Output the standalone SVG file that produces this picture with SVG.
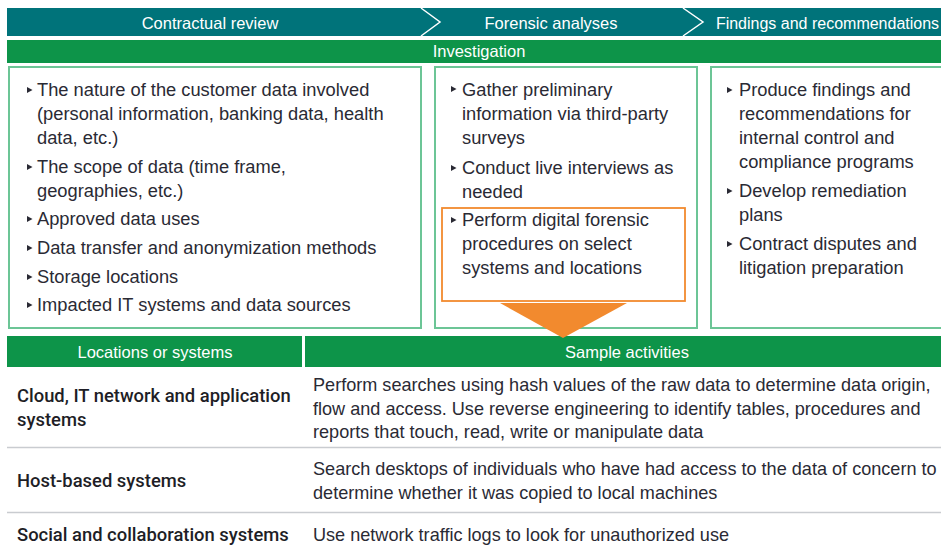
<svg xmlns="http://www.w3.org/2000/svg" width="941" height="552" viewBox="0 0 941 552">
  <style>
    .hdr { font-family: "Liberation Sans", Arial, sans-serif; font-size: 16.5px; fill: #ffffff; text-anchor: middle; }
    .body { font-family: "Liberation Sans", Arial, sans-serif; font-size: 18.3px; fill: #2a2a34; }
    .tbl { font-family: "Liberation Sans", Arial, sans-serif; font-size: 18.1px; fill: #2a2a34; }
    .lbl { font-family: Roboto, "Liberation Sans", sans-serif; font-weight: 500; font-size: 18.4px; fill: #1e1e26; }
    .box { fill: #ffffff; stroke: #6cc596; stroke-width: 2; }
    .rule { stroke: #c9ccd0; stroke-width: 1.5; }
    .bul { fill: #2a2a34; }
  </style>
  <defs>
    <polygon id="bullet" points="0,-3 5.5,0 0,3" class="bul"/>
  </defs>

  <rect width="941" height="552" fill="#ffffff"/>

  <!-- phase banner -->
  <g id="phases">
    <rect x="7" y="8" width="934" height="28" fill="#00737a"/>
    <polyline points="421,8 440,22 421,36" fill="none" stroke="#ffffff" stroke-width="1.5"/>
    <polyline points="683,8 703,22 683,36" fill="none" stroke="#ffffff" stroke-width="1.5"/>
    <text class="hdr" x="210" y="28.5">Contractual review</text>
    <text class="hdr" x="551" y="28.5">Forensic analyses</text>
    <text class="hdr" x="827.5" y="28.5" style="font-size:16px">Findings and recommendations</text>
  </g>

  <!-- investigation band -->
  <g id="investigation">
    <rect x="7" y="40" width="934" height="23" fill="#0d9449"/>
    <text class="hdr" x="479" y="57">Investigation</text>
  </g>

  <!-- contractual review column -->
  <g id="contractual">
    <rect class="box" x="9" y="67" width="412" height="261"/>
    <use href="#bullet" x="27" y="90"/>
    <text class="body" x="37" y="96">The nature of the customer data involved</text>
    <text class="body" x="37" y="120">(personal information, banking data, health</text>
    <text class="body" x="37" y="144">data, etc.)</text>
    <use href="#bullet" x="27" y="167"/>
    <text class="body" x="37" y="173">The scope of data (time frame,</text>
    <text class="body" x="37" y="197">geographies, etc.)</text>
    <use href="#bullet" x="27" y="219"/>
    <text class="body" x="37" y="225">Approved data uses</text>
    <use href="#bullet" x="27" y="248"/>
    <text class="body" x="37" y="254">Data transfer and anonymization methods</text>
    <use href="#bullet" x="27" y="277"/>
    <text class="body" x="37" y="283">Storage locations</text>
    <use href="#bullet" x="27" y="305"/>
    <text class="body" x="37" y="311">Impacted IT systems and data sources</text>
  </g>

  <!-- forensic analyses column -->
  <g id="forensic">
    <rect class="box" x="435" y="67" width="262" height="261"/>
    <use href="#bullet" x="451" y="89"/>
    <text class="body" x="462" y="96">Gather preliminary</text>
    <text class="body" x="462" y="120">information via third-party</text>
    <text class="body" x="462" y="144">surveys</text>
    <use href="#bullet" x="451" y="168"/>
    <text class="body" x="462" y="174">Conduct live interviews as</text>
    <text class="body" x="462" y="198">needed</text>
    <rect x="442" y="208" width="243" height="93" fill="none" stroke="#f28a2e" stroke-width="1.8"/>
    <use href="#bullet" x="451" y="220"/>
    <text class="body" x="462" y="226">Perform digital forensic</text>
    <text class="body" x="462" y="250">procedures on select</text>
    <text class="body" x="462" y="274">systems and locations</text>
  </g>

  <!-- findings column -->
  <g id="findings">
    <rect class="box" x="711" y="67" width="240" height="261"/>
    <use href="#bullet" x="727" y="90"/>
    <text class="body" x="739" y="96">Produce findings and</text>
    <text class="body" x="739" y="120">recommendations for</text>
    <text class="body" x="739" y="144">internal control and</text>
    <text class="body" x="739" y="168">compliance programs</text>
    <use href="#bullet" x="727" y="191"/>
    <text class="body" x="739" y="197">Develop remediation</text>
    <text class="body" x="739" y="221">plans</text>
    <use href="#bullet" x="727" y="244"/>
    <text class="body" x="739" y="250">Contract disputes and</text>
    <text class="body" x="739" y="274">litigation preparation</text>
  </g>

  <!-- table header -->
  <g id="table-header">
    <rect x="7" y="336" width="295" height="31" fill="#0d9449"/>
    <rect x="305" y="336" width="636" height="31" fill="#0d9449"/>
    <text class="hdr" x="155" y="357.5">Locations or systems</text>
    <text class="hdr" x="627" y="357.5">Sample activities</text>
  </g>

  <!-- connector: forensic procedures feed the table -->
  <g id="connectors">
    <polygon points="500,303 627,303 563,338" fill="#f28a2e"/>
  </g>

  <!-- table rows -->
  <g id="row-cloud">
    <text class="lbl" x="17" y="402">Cloud, IT network and application</text>
    <text class="lbl" x="17" y="426">systems</text>
    <text class="tbl" x="313" y="391">Perform searches using hash values of the raw data to determine data origin,</text>
    <text class="tbl" x="313" y="415">flow and access. Use reverse engineering to identify tables, procedures and</text>
    <text class="tbl" x="313" y="438">reports that touch, read, write or manipulate data</text>
  </g>
  <line class="rule" x1="7" y1="447.5" x2="941" y2="447.5"/>
  <g id="row-host">
    <text class="lbl" x="17" y="487">Host-based systems</text>
    <text class="tbl" x="313" y="475">Search desktops of individuals who have had access to the data of concern to</text>
    <text class="tbl" x="313" y="499">determine whether it was copied to local machines</text>
  </g>
  <line class="rule" x1="7" y1="512.5" x2="941" y2="512.5"/>
  <g id="row-social">
    <text class="lbl" x="17" y="541">Social and collaboration systems</text>
    <text class="tbl" x="313" y="541">Use network traffic logs to look for unauthorized use</text>
  </g>
</svg>
